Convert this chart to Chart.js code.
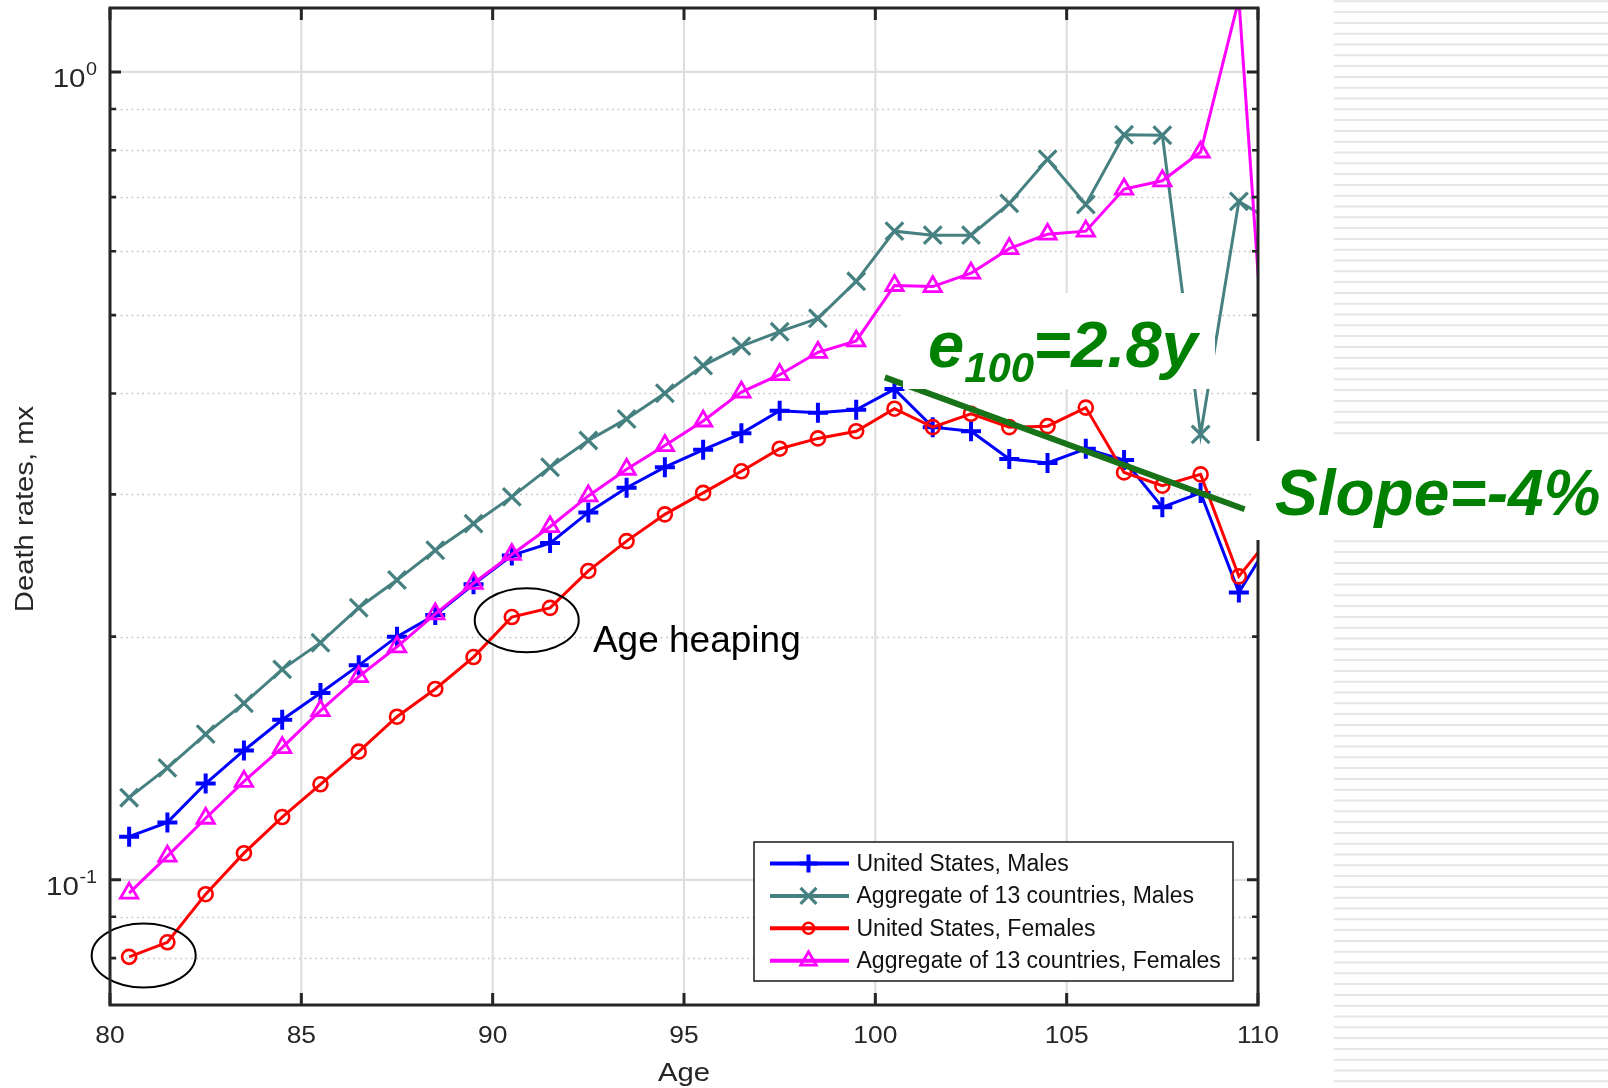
<!DOCTYPE html>
<html>
<head>
<meta charset="utf-8">
<title>Death rates above age 80</title>
<script src="https://cdn.jsdelivr.net/npm/chart.js@4.4.1/dist/chart.umd.min.js"></script>
<style>
  html, body { margin: 0; padding: 0; background: #fff; }
  #wrap { width: 1608px; height: 1088px; }
</style>
</head>
<body>
<div id="wrap"><canvas id="mx" width="1608" height="1088"></canvas></div>
<script>
// mid-year ages, last one sits past the axis and only gives the clipped end segment
const ages = [80.5, 81.5, 82.5, 83.5, 84.5, 85.5, 86.5, 87.5, 88.5, 89.5,
  90.5, 91.5, 92.5, 93.5, 94.5, 95.5, 96.5, 97.5, 98.5, 99.5,
  100.5, 101.5, 102.5, 103.5, 104.5, 105.5, 106.5, 107.5, 108.5, 109.5, 110.5];

const usMales = [0.1131, 0.1178, 0.1316, 0.1446, 0.1578, 0.1703, 0.1843, 0.2000, 0.2128, 0.2322,
  0.2521, 0.2611, 0.2850, 0.3058, 0.3242, 0.3407, 0.3570, 0.3808, 0.3785, 0.3819,
  0.4050, 0.3634, 0.3592, 0.3319, 0.3281, 0.3417, 0.3309, 0.2892, 0.3013, 0.2269, 0.2708];

const aggMales = [0.1264, 0.1376, 0.1515, 0.1654, 0.1822, 0.1966, 0.2172, 0.2350, 0.2558, 0.2760,
  0.2979, 0.3242, 0.3499, 0.3720, 0.4003, 0.4331, 0.4578, 0.4770, 0.4955, 0.5506,
  0.6353, 0.6281, 0.6281, 0.6876, 0.7798, 0.6855, 0.8360, 0.8350, 0.3560, 0.6916, 0.6484];

const usFemales = [0.0803, 0.0837, 0.0960, 0.1079, 0.1196, 0.1313, 0.1441, 0.1592, 0.1723, 0.1887,
  0.2115, 0.2171, 0.2412, 0.2626, 0.2834, 0.3013, 0.3204, 0.3417, 0.3519, 0.3592,
  0.3830, 0.3634, 0.3775, 0.3634, 0.3644, 0.3842, 0.3194, 0.3075, 0.3176, 0.2375, 0.2718];

const aggFemales = [0.0963, 0.1070, 0.1192, 0.1324, 0.1458, 0.1620, 0.1785, 0.1943, 0.2134, 0.2329,
  0.2528, 0.2736, 0.2987, 0.3223, 0.3448, 0.3698, 0.4015, 0.4220, 0.4498, 0.4646,
  0.5441, 0.5425, 0.5636, 0.6044, 0.6298, 0.6353, 0.7163, 0.7333, 0.7960, 1.2300, 0.2590];

const xTicks = [80, 85, 90, 95, 100, 105, 110];
const yMajor = [0.1, 1];
const yMinor = [0.08, 0.09, 0.2, 0.3, 0.4, 0.5, 0.6, 0.7, 0.8, 0.9];
const xMin = 80, xMax = 110;
const yMin = 0.07, yMax = 1.2;

// log-linear decline fitted past 100
const trendAges = [100.25, 109.65];
const trendMidAge = 104.95;
const trendMid = 0.347;
const trendSlope = -0.04;
const trendValues = trendAges.map(a => trendMid * Math.exp(trendSlope * (a - trendMidAge)));

const series = [
  { label: 'United States, Males', data: usMales, color: '#0000ff', style: 'cross', radius: 10, bw: 4 },
  { label: 'Aggregate of 13 countries, Males', data: aggMales, color: '#468080', style: 'crossRot', radius: 12.5, bw: 3.2 },
  { label: 'United States, Females', data: usFemales, color: '#ff0000', style: 'circle', radius: 7, bw: 2.6 },
  { label: 'Aggregate of 13 countries, Females', data: aggFemales, color: '#ff00ff', style: 'triangle', radius: 10, bw: 2.8 },
];

const FONT = "'Liberation Sans', Arial, Helvetica, sans-serif";
const INK = '#262626';
const GREEN = '#008000';

function stretchText(ctx, str, x, y, sx, align) {
  ctx.save();
  ctx.translate(x, y);
  ctx.scale(sx, 1);
  ctx.textAlign = align;
  ctx.textBaseline = 'alphabetic';
  ctx.fillText(str, 0, 0);
  ctx.restore();
}

function drawMarker(ctx, style, x, y, r, color, bw) {
  ctx.save();
  ctx.strokeStyle = color;
  ctx.lineWidth = bw;
  ctx.beginPath();
  if (style === 'cross') {
    ctx.moveTo(x - r, y); ctx.lineTo(x + r, y);
    ctx.moveTo(x, y - r); ctx.lineTo(x, y + r);
  } else if (style === 'crossRot') {
    const d = r * Math.SQRT1_2;
    ctx.moveTo(x - d, y - d); ctx.lineTo(x + d, y + d);
    ctx.moveTo(x + d, y - d); ctx.lineTo(x - d, y + d);
  } else if (style === 'circle') {
    ctx.arc(x, y, r, 0, Math.PI * 2);
  } else if (style === 'triangle') {
    const h = r * Math.sin(Math.PI / 3);
    ctx.moveTo(x, y - r);
    ctx.lineTo(x + h, y + r / 2);
    ctx.lineTo(x - h, y + r / 2);
    ctx.closePath();
  }
  ctx.stroke();
  ctx.restore();
}

// grid, stripes and white page under the data
const underlay = {
  id: 'underlay',
  beforeDatasetsDraw(chart) {
    const { ctx, chartArea: a } = chart;
    const xs = chart.scales.x, ys = chart.scales.y;
    ctx.save();
    ctx.fillStyle = '#fff';
    ctx.fillRect(0, 0, chart.width, chart.height);

    // light stripes on the right margin
    ctx.strokeStyle = '#e6e6e6';
    ctx.lineWidth = 2;
    for (let y = 1.3; y < chart.height; y += 10.8) {
      ctx.beginPath();
      ctx.moveTo(1334, y);
      ctx.lineTo(chart.width, y);
      ctx.stroke();
    }

    // dotted minor grid
    ctx.strokeStyle = '#c2c2c2';
    ctx.lineWidth = 1.6;
    ctx.setLineDash([1.6, 3.8]);
    yMinor.forEach(v => {
      const y = Math.round(ys.getPixelForValue(v)) + 0.5;
      ctx.beginPath();
      ctx.moveTo(a.left, y);
      ctx.lineTo(a.right, y);
      ctx.stroke();
    });
    ctx.setLineDash([]);

    // solid major grid
    ctx.strokeStyle = '#dedede';
    ctx.lineWidth = 2.2;
    xTicks.forEach(t => {
      const x = xs.getPixelForValue(t);
      ctx.beginPath();
      ctx.moveTo(x, a.top);
      ctx.lineTo(x, a.bottom);
      ctx.stroke();
    });
    yMajor.forEach(v => {
      const y = ys.getPixelForValue(v);
      ctx.beginPath();
      ctx.moveTo(a.left, y);
      ctx.lineTo(a.right, y);
      ctx.stroke();
    });
    ctx.restore();
  }
};

// frame, ticks, labels, legend and notes over the data
const overlay = {
  id: 'overlay',
  afterDatasetsDraw(chart) {
    const { ctx, chartArea: a } = chart;
    const xs = chart.scales.x, ys = chart.scales.y;
    ctx.save();

    // notes: ellipses and "Age heaping"
    ctx.strokeStyle = '#000';
    ctx.lineWidth = 2;
    [[80.88, 0.0806], [90.89, 0.2096]].forEach(([ax, v]) => {
      ctx.beginPath();
      ctx.ellipse(xs.getPixelForValue(ax), ys.getPixelForValue(v), 52, 32, 0, 0, Math.PI * 2);
      ctx.stroke();
    });
    ctx.fillStyle = '#000';
    ctx.font = '37px ' + FONT;
    ctx.textAlign = 'left';
    ctx.textBaseline = 'alphabetic';
    ctx.fillText('Age heaping', xs.getPixelForValue(92.62), ys.getPixelForValue(0.1917));

    // frame
    ctx.strokeStyle = INK;
    ctx.lineWidth = 3;
    ctx.strokeRect(a.left, a.top, a.right - a.left, a.bottom - a.top);

    // inward ticks
    ctx.lineWidth = 3;
    xTicks.forEach(t => {
      const x = xs.getPixelForValue(t);
      ctx.beginPath();
      ctx.moveTo(x, a.bottom); ctx.lineTo(x, a.bottom - 12);
      ctx.moveTo(x, a.top); ctx.lineTo(x, a.top + 12);
      ctx.stroke();
    });
    const yTick = (v, len) => {
      const y = ys.getPixelForValue(v);
      ctx.beginPath();
      ctx.moveTo(a.left, y); ctx.lineTo(a.left + len, y);
      ctx.moveTo(a.right, y); ctx.lineTo(a.right - len, y);
      ctx.stroke();
    };
    yMajor.forEach(v => yTick(v, 11));
    ctx.lineWidth = 2.6;
    yMinor.forEach(v => yTick(v, 6));

    // tick labels
    ctx.fillStyle = INK;
    ctx.font = '24px ' + FONT;
    xTicks.forEach(t => stretchText(ctx, String(t), xs.getPixelForValue(t), a.bottom + 38, 1.1, 'center'));
    yMajor.forEach(v => {
      const y = ys.getPixelForValue(v);
      const exp = String(Math.round(Math.log10(v)));
      const right = 97;
      ctx.font = '18px ' + FONT;
      const sw = ctx.measureText(exp).width * 1.1;
      stretchText(ctx, exp, right - sw, y + 3, 1.1, 'left');
      ctx.font = '25px ' + FONT;
      stretchText(ctx, '10', right - sw - 0.5, y + 15, 1.18, 'right');
    });

    // axis titles
    ctx.font = '25px ' + FONT;
    stretchText(ctx, 'Age', (a.left + a.right) / 2, 1081, 1.17, 'center');
    ctx.save();
    ctx.translate(33, 509);
    ctx.rotate(-Math.PI / 2);
    stretchText(ctx, 'Death rates, mx', 0, 0, 1.17, 'center');
    ctx.restore();

    // legend
    const lx = 754, ly = 842, lw = 479, lh = 139;
    ctx.fillStyle = '#fff';
    ctx.fillRect(lx, ly, lw, lh);
    ctx.strokeStyle = INK;
    ctx.lineWidth = 1.6;
    ctx.strokeRect(lx, ly, lw, lh);
    ctx.font = '23px ' + FONT;
    ctx.textAlign = 'left';
    ctx.textBaseline = 'middle';
    series.forEach((s, i) => {
      const y = 863.5 + i * 32.4;
      ctx.strokeStyle = s.color;
      ctx.lineWidth = 4;
      ctx.beginPath();
      ctx.moveTo(770, y); ctx.lineTo(849, y);
      ctx.stroke();
      drawMarker(ctx, s.style, 808.5, y, s.style === 'circle' ? 5.5 : s.radius * 0.9, s.color, s.bw);
      ctx.fillStyle = '#111';
      ctx.fillText(s.label, 856.5, y + 1);
    });

    // green notes on white boxes
    ctx.fillStyle = '#fff';
    ctx.fillRect(903, 293, 312, 96);
    ctx.fillRect(1252, 441, 356, 99);
    ctx.fillStyle = GREEN;
    ctx.textAlign = 'left';
    ctx.textBaseline = 'alphabetic';
    let x = 928;
    ctx.font = 'italic bold 65px ' + FONT;
    ctx.fillText('e', x, 367);
    x += ctx.measureText('e').width;
    ctx.font = 'italic bold 42px ' + FONT;
    ctx.fillText('100', x, 382);
    x += ctx.measureText('100').width;
    ctx.font = 'italic bold 65px ' + FONT;
    ctx.fillText('=2.8y', x - 1, 367);
    ctx.font = 'italic bold 64px ' + FONT;
    ctx.fillText('Slope=-4%', 1275, 515);

    ctx.restore();
  }
};

const datasets = series.map((s, i) => ({
  label: s.label,
  data: ages.map((age, j) => ({ x: age, y: s.data[j] })),
  borderColor: s.color,
  borderWidth: 3,
  pointStyle: s.style,
  // markers that fall above the axis are not drawn
  pointRadius: c => (c.raw && c.raw.y > yMax ? 0 : s.radius),
  pointHoverRadius: s.radius,
  pointBorderColor: s.color,
  pointBackgroundColor: 'rgba(0,0,0,0)',
  pointBorderWidth: s.bw,
  tension: 0,
  order: 4 - i,
}));

datasets.push({
  label: 'trend',
  data: trendAges.map((age, j) => ({ x: age, y: trendValues[j] })),
  borderColor: '#187318',
  borderWidth: 6,
  pointRadius: 0,
  tension: 0,
  order: 0,
});

new Chart(document.getElementById('mx'), {
  type: 'line',
  data: { datasets },
  options: {
    responsive: false,
    animation: false,
    devicePixelRatio: 1,
    events: [],
    layout: { autoPadding: false, padding: { left: 110, right: 350, top: 8, bottom: 83 } },
    plugins: { legend: { display: false }, tooltip: { enabled: false } },
    scales: {
      x: { type: 'linear', min: xMin, max: xMax, display: false },
      y: { type: 'logarithmic', min: yMin, max: yMax, display: false },
    },
  },
  plugins: [underlay, overlay],
});
</script>
</body>
</html>
